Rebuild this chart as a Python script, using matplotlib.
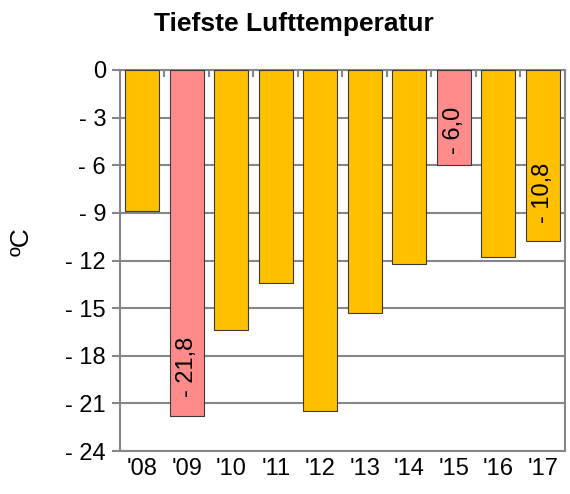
import matplotlib
matplotlib.use("Agg")
import matplotlib.pyplot as plt
import numpy as np

plt.rcParams['font.family'] = ['Liberation Sans', 'DejaVu Sans']

years = ["'08", "'09", "'10", "'11", "'12", "'13", "'14", "'15", "'16", "'17"]
values = [-8.9, -21.8, -16.4, -13.4, -21.5, -15.3, -12.2, -6.0, -11.8, -10.8]
highlight = [False, True, False, False, False, False, False, True, False, False]
labels = {1: "- 21,8", 7: "- 6,0", 9: "- 10,8"}
label_offsets = {1: 14, 7: 8, 9: 13}
yticks = [0, -3, -6, -9, -12, -15, -18, -21, -24]

orange = '#FFC000'
pink = '#FF8B8B'
grid = '#868686'

fig = plt.figure(figsize=(5.7, 4.94), dpi=100)
ax = fig.add_axes([0.2105, 0.087, 0.9912 - 0.2105, 0.8583 - 0.087])

x = np.arange(len(years))
colors = [pink if h else orange for h in highlight]
ax.bar(x, values, width=0.76, color=colors, edgecolor='#3a3a3a', linewidth=0.8, zorder=3)

ax.set_xlim(-0.5, len(years) - 0.5)
ax.set_ylim(-24, 0)
ax.set_yticks(yticks)
ax.set_yticklabels(["0" if v == 0 else f"- {abs(v)}" for v in yticks], fontsize=17)
ax.set_xticks(x)
ax.set_xticklabels(years, fontsize=17)
ax.set_xticks(np.arange(len(years) + 1) - 0.5, minor=True)

ax.yaxis.grid(True, color=grid, linewidth=1.5, zorder=0)
ax.set_axisbelow(True)
for s in ax.spines.values():
    s.set_color(grid)
    s.set_linewidth(1.5)

ax.tick_params(axis='y', length=6, width=1.5, color=grid, pad=4)
ax.tick_params(axis='x', which='major', length=0, pad=5)
ax.tick_params(axis='x', which='minor', bottom=False, top=True, direction='in',
               length=5, width=1.5, color=grid)

for i, txt in labels.items():
    ax.annotate(txt, xy=(x[i], values[i]), xytext=(0, label_offsets[i]),
                textcoords='offset points', rotation=90, ha='center', va='bottom',
                fontsize=17, zorder=4)

ax.set_ylabel('ºC', fontsize=19)
ax.yaxis.set_label_coords(-0.195, 0.55)
fig.text(0.515, 0.952, 'Tiefste Lufttemperatur', ha='center', va='center',
         fontsize=19, fontweight='bold')

fig.savefig('out.png', dpi=100)
